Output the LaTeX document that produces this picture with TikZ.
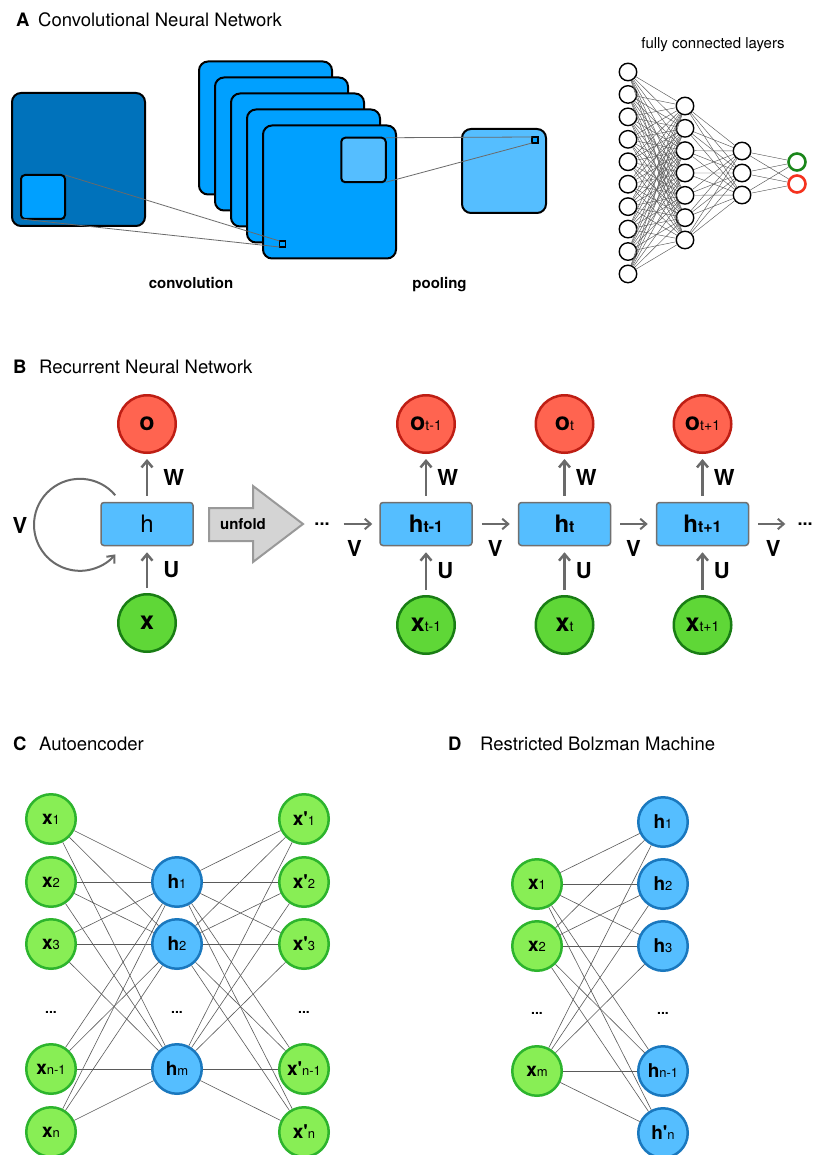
\documentclass[tikz,border=0pt]{standalone}
\usepackage{fontspec}
\setmainfont{TeX Gyre Heros}
\usetikzlibrary{arrows.meta}

\newcommand\fsz[1]{\fontsize{#1}{#1}\selectfont}
\newcommand\lsub[1]{{\fsz{13}\mdseries #1}}
\newcommand\osub[1]{{\fsz{14}\mdseries #1}}
\newcommand\hsub[1]{{\fsz{16}\bfseries #1}}

% palette
\definecolor{cdark}{HTML}{0072BB}
\definecolor{cmid}{HTML}{00A0FF}
\definecolor{clight}{HTML}{55BEFF}
\definecolor{ofill}{HTML}{FF6450}
\definecolor{oborder}{HTML}{BE1E14}
\definecolor{xfill}{HTML}{5FD737}
\definecolor{xborder}{HTML}{197D14}
\definecolor{hborder}{HTML}{707070}
\definecolor{arrgray}{HTML}{6A6A6A}
\definecolor{agfill}{HTML}{88EE55}
\definecolor{agborder}{HTML}{2DB42D}
\definecolor{abborder}{HTML}{1A78BE}
\definecolor{wirecol}{HTML}{5A5A5A}
\definecolor{outgreen}{HTML}{1A861A}
\definecolor{outred}{HTML}{F5321E}

\begin{document}
\begin{tikzpicture}[x=1pt,y=1pt,
  letter/.style={anchor=base west, inner sep=0, font=\fsz{18.5}\bfseries},
  heading/.style={anchor=base west, inner sep=0, font=\fsz{18.5}},
  caption/.style={anchor=base, inner sep=0, font=\fsz{15}\bfseries},
  sq/.style={rectangle, draw=black, line width=2pt, rounded corners=9pt, inner sep=0, outer sep=0, minimum size=#1},
  patchsq/.style={rectangle, draw=black, line width=2pt, rounded corners=4pt, inner sep=0, outer sep=0, minimum size=#1},
  tinysq/.style={rectangle, draw=black, line width=1.2pt, inner sep=0, outer sep=0, minimum size=6pt},
  guide/.style={draw=arrgray, line width=0.8pt},
  fcn/.style={circle, draw=black, fill=white, line width=1.4pt, minimum size=17.5pt, inner sep=0},
  fcout/.style={circle, draw=#1, fill=white, line width=2.6pt, minimum size=17pt, inner sep=0},
  fcwire/.style={draw=wirecol, line width=0.45pt},
  onode/.style={circle, fill=ofill, draw=oborder, line width=2.5pt, minimum size=57.5pt, inner sep=0, font=\fsz{25}\bfseries},
  xnode/.style={circle, fill=xfill, draw=xborder, line width=2.5pt, minimum size=57.5pt, inner sep=0, font=\fsz{25}\bfseries},
  hbox/.style={rectangle, rounded corners=3pt, fill=clight, draw=hborder, line width=1.5pt, minimum width=92pt, minimum height=43pt, inner sep=0, font=\fsz{24}},
  varr/.style={draw=arrgray, line width=2.5pt, -{Straight Barb[length=6.5pt,width=11pt]}},
  harr/.style={draw=arrgray, line width=2pt, -{Straight Barb[length=6pt,width=10.5pt]}},
  wlab/.style={inner sep=0, font=\fsz{22}\bfseries},
  bigdots/.style={inner sep=0, font=\fsz{18}\bfseries},
  gnode/.style={circle, fill=agfill, draw=agborder, line width=2.5pt, minimum size=49.5pt, inner sep=0, font=\fsz{19}\bfseries},
  bnode/.style={circle, fill=clight, draw=abborder, line width=2.5pt, minimum size=49.5pt, inner sep=0, font=\fsz{19}\bfseries},
  aewire/.style={draw=wirecol, line width=0.6pt},
  smalldots/.style={inner sep=0, font=\fsz{14}\bfseries}
]
\clip (0,0) rectangle (812,-1155);
\fill[white] (0,0) rectangle (812,-1155);

% ---------------- A: convolutional network ----------------
\node[letter]  (tA)  at (16,-27) {A};
\node[heading] (tAt) at (38,-27) {Convolutional Neural Network};

\node[sq=133pt, fill=cdark] (img) at (78.5,-159.5) {};
\node[patchsq=44pt, fill=cmid] (patch) at (43,-197) {};

\node[sq=133pt, fill=cmid] (f1) at (265.5,-128) {};
\node[sq=133pt, fill=cmid] (f2) at (281.5,-144) {};
\node[sq=133pt, fill=cmid] (f3) at (297.5,-160) {};
\node[sq=133pt, fill=cmid] (f4) at (313.5,-176) {};
\node[sq=133pt, fill=cmid] (f5) at (329.5,-192) {};
\node[patchsq=44.5pt, fill=clight] (pwin) at (363.5,-160) {};
\node[tinysq, fill=cmid] (ctiny) at (282.5,-244) {};

\node[sq=84pt, fill=clight] (pool) at (504,-171) {};
\node[tinysq, fill=cmid] (ptiny) at (535,-140) {};

\draw[guide] (patch.north east) -- (ctiny.north west);
\draw[guide] (patch.south west) -- (ctiny.south west);
\draw[guide] (pwin.north east) -- (ptiny.north west);
\draw[guide] (pwin.south east) -- (ptiny.south west);

\node[caption] (cconv) at (191,-288) {convolution};
\node[caption] (cpool) at (439.5,-288) {pooling};

% fully connected layers
\node[anchor=base, inner sep=0, font=\fsz{15}] (cfc) at (713,-49) {fully connected layers};
\foreach \i in {0,...,9} \node[fcn] (a\i) at (628,{-72-22.44*\i}) {};
\foreach \i in {0,...,6} \node[fcn] (b\i) at (685,{-106-22.33*\i}) {};
\foreach \i in {0,1,2} \node[fcn] (c\i) at (742,{-151-22*\i}) {};
\node[fcout=outgreen] (d0) at (797,-162) {};
\node[fcout=outred]   (d1) at (797,-184) {};
\foreach \i in {0,...,9} \foreach \j in {0,...,6} \draw[fcwire] (a\i) -- (b\j);
\foreach \i in {0,...,6} \foreach \j in {0,1,2} \draw[fcwire] (b\i) -- (c\j);
\foreach \i in {0,1,2} \foreach \j in {0,1} \draw[fcwire] (c\i) -- (d\j);

% ---------------- B: recurrent network ----------------
\node[letter]  (tB)  at (13,-373) {B};
\node[heading] (tBt) at (39,-373) {Recurrent Neural Network};

\node[onode] (ol) at (147,-424) {o};
\node[hbox]  (hl) at (147,-524) {h};
\node[xnode] (xl) at (147,-623) {x};
\draw[varr, shorten <=6pt, shorten >=5pt] (hl) -- node[wlab, anchor=west, xshift=15pt] (wl) {W} (ol);
\draw[varr, shorten <=5pt, shorten >=6pt] (xl) -- node[wlab, anchor=west, xshift=15pt] (ul) {U} (hl);
\draw[draw=arrgray, line width=2pt, -{Straight Barb[length=6pt,width=10.5pt]}]
  ([xshift=15pt,yshift=6.5pt]hl.north west) arc[start angle=40, end angle=320, radius=46pt];
\node[wlab] (vl) at (20,-525) {V};

% unfold block arrow
\filldraw[fill=black!17, draw=black!40, line width=2pt]
  (209,-508) -- (253,-508) -- (253,-486) -- (303,-524) -- (253,-562) -- (253,-541) -- (209,-541) -- cycle;
\node[inner sep=0, font=\fsz{15}\bfseries] (unf) at (243,-524) {unfold};

% unrolled chain
\node[bigdots] (dl) at (322,-524) {...};
\node[bigdots] (dr) at (805,-524) {...};
\foreach \n/\px/\sx in {1/426/{t-1}, 2/564.5/{t}, 3/702.5/{t+1}} {
  \node[onode] (o\n) at (\px,-424) {o\osub{\sx}};
  \node[hbox, font=\fsz{24}\bfseries] (h\n) at (\px,-524) {h\hsub{\sx}};
  \node[xnode] (x\n) at (\px,-625) {x\osub{\sx}};
  \draw[varr, shorten <=6pt, shorten >=5pt] (h\n) -- node[wlab, anchor=west, xshift=10pt] (w\n) {W} (o\n);
  \draw[varr, shorten <=5pt, shorten >=6pt] (x\n) -- node[wlab, anchor=west, xshift=10pt] (u\n) {U} (h\n);
}
\draw[harr, shorten <=14pt, shorten >=7pt] (dl.east) -- node[wlab, anchor=north, yshift=-15pt] {V} (h1.west);
\draw[harr, shorten <=9pt, shorten >=8pt] (h1.east) -- node[wlab, anchor=north, yshift=-15pt] {V} (h2.west);
\draw[harr, shorten <=9pt, shorten >=8pt] (h2.east) -- node[wlab, anchor=north, yshift=-15pt] {V} (h3.west);
\draw[harr, shorten <=9pt, shorten >=12pt] (h3.east) -- node[wlab, anchor=north, yshift=-15pt] {V} (dr.west);

% ---------------- C: autoencoder ----------------
\node[letter]  (tC)  at (13,-750) {C};
\node[heading] (tCt) at (39,-750) {Autoencoder};

\foreach \i/\py/\lab in {1/819/1, 2/882/2, 3/944/3, 4/1069/{n-1}, 5/1132/n} {
  \node[gnode] (cx\i) at (51,-\py) {x\lsub{\lab}};
  \node[gnode] (cy\i) at (304,-\py) {x\textquotesingle\lsub{\lab}};
}
\node[bnode] (ch1) at (177,-882) {h\lsub{1}};
\node[bnode] (ch2) at (177,-944) {h\lsub{2}};
\node[bnode] (ch3) at (177,-1069) {h\lsub{m}};
\node[smalldots] (cd1) at (51,-1012) {...};
\node[smalldots] (cd2) at (177,-1012) {...};
\node[smalldots] (cd3) at (304,-1012) {...};
\foreach \i in {1,...,5} \foreach \j in {1,2,3} {
  \draw[aewire] (cx\i) -- (ch\j);
  \draw[aewire] (ch\j) -- (cy\i);
}

% ---------------- D: restricted Boltzmann machine ----------------
\node[letter]  (tD)  at (448,-750) {D};
\node[heading] (tDt) at (480,-750) {Restricted Bolzman Machine};

\node[gnode] (dv1) at (537,-884) {x\lsub{1}};
\node[gnode] (dv2) at (537,-946) {x\lsub{2}};
\node[gnode] (dv3) at (537,-1071) {x\lsub{m}};
\node[bnode] (dh1) at (663,-822) {h\lsub{1}};
\node[bnode] (dh2) at (663,-884) {h\lsub{2}};
\node[bnode] (dh3) at (663,-946) {h\lsub{3}};
\node[bnode] (dh4) at (663,-1071) {h\lsub{n-1}};
\node[bnode] (dh5) at (663,-1133) {h\textquotesingle\lsub{n}};
\node[smalldots] (dd1) at (537,-1013) {...};
\node[smalldots] (dd2) at (663,-1013) {...};
\foreach \i in {1,2,3} \foreach \j in {1,...,5} \draw[aewire] (dv\i) -- (dh\j);

\end{tikzpicture}
\end{document}
